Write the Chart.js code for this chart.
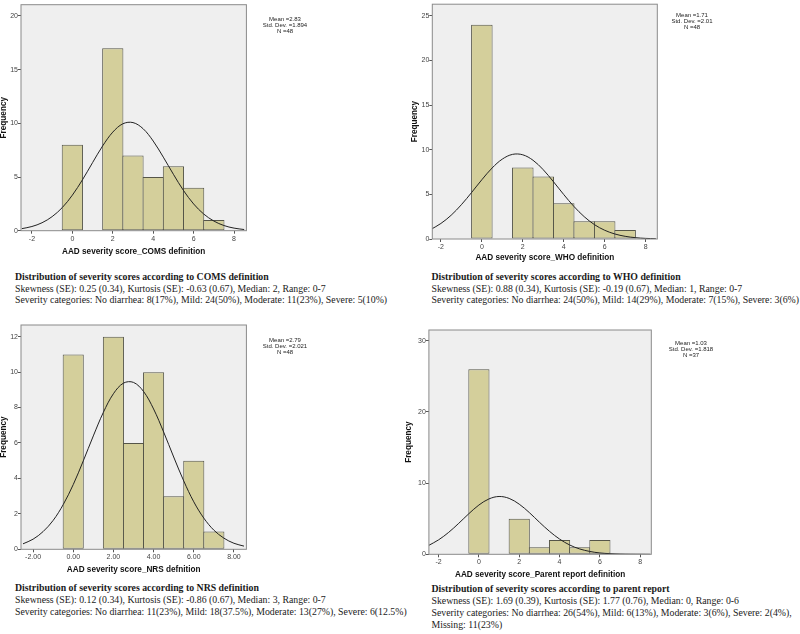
<!DOCTYPE html>
<html lang="en">
<head>
    <meta charset="UTF-8">
    <title>AAD severity score distributions</title>
    <script src="https://cdn.jsdelivr.net/npm/chart.js"></script>
    <style>
        body {
            margin: 0;
            width: 800px;
            height: 634px;
            background: #fff;
            position: relative;
            overflow: hidden;
        }
        canvas.hist {
            position: absolute;
        }
        .stats {
            position: absolute;
            width: 80px;
            font-family: "Liberation Sans", Arial, sans-serif;
            font-size: 6px;
            line-height: 6.3px;
            text-align: center;
            color: #222;
        }
        .caption {
            position: absolute;
            font-family: "Liberation Serif", "Times New Roman", serif;
            font-size: 9.8px;
            line-height: 11.5px;
            color: #1a1a1a;
            white-space: nowrap;
        }
    </style>
</head>
<body>
    <canvas id="comsChart" class="hist"></canvas>
    <canvas id="whoChart" class="hist"></canvas>
    <canvas id="nrsChart" class="hist"></canvas>
    <canvas id="parentChart" class="hist"></canvas>

    <div class="stats" style="left:245px; top:15.8px;">Mean =2.83<br>Std. Dev. =1.894<br>N =48</div>
    <div class="stats" style="left:652px; top:11.8px;">Mean =1.71<br>Std. Dev. =2.01<br>N =48</div>
    <div class="stats" style="left:245px; top:336.8px;">Mean =2.79<br>Std. Dev. =2.021<br>N =48</div>
    <div class="stats" style="left:651px; top:339.8px;">Mean =1.03<br>Std. Dev. =1.818<br>N =37</div>

    <div class="caption" style="left:15px; top:271px;">
        <b>Distribution of severity scores according to COMS definition</b><br>
        Skewness (SE): 0.25 (0.34), Kurtosis (SE): -0.63 (0.67), Median: 2, Range: 0-7<br>
        Severity categories: No diarrhea: 8(17%), Mild: 24(50%), Moderate: 11(23%), Severe: 5(10%)
    </div>
    <div class="caption" style="left:431.5px; top:271px;">
        <b>Distribution of severity scores according to WHO definition</b><br>
        Skewness (SE): 0.88 (0.34), Kurtosis (SE): -0.19 (0.67), Median: 1, Range: 0-7<br>
        Severity categories: No diarrhea: 24(50%), Mild: 14(29%), Moderate: 7(15%), Severe: 3(6%)
    </div>
    <div class="caption" style="left:15px; top:582px; line-height:12px;">
        <b>Distribution of severity scores according to NRS definition</b><br>
        Skewness (SE): 0.12 (0.34), Kurtosis (SE): -0.86 (0.67), Median: 3, Range: 0-7<br>
        Severity categories: No diarrhea: 11(23%), Mild: 18(37.5%), Moderate: 13(27%), Severe: 6(12.5%)
    </div>
    <div class="caption" style="left:431.5px; top:583px; line-height:12px;">
        <b>Distribution of severity scores according to parent report</b><br>
        Skewness (SE): 1.69 (0.39), Kurtosis (SE): 1.77 (0.76), Median: 0, Range: 0-6<br>
        Severity categories: No diarrhea: 26(54%), Mild: 6(13%), Moderate: 3(6%), Severe: 2(4%),<br>
        Missing: 11(23%)
    </div>

    <script>
        // score bins (0..7) and frequencies
        const bins = [0, 1, 2, 3, 4, 5, 6, 7];
        const comsCounts = [8, 0, 17, 7, 5, 6, 4, 1];
        const whoCounts = [24, 0, 8, 7, 4, 2, 2, 1];
        const nrsCounts = [11, 0, 12, 6, 10, 3, 5, 1];
        const parentBins = [0, 1, 2, 3, 4, 5, 6];
        const parentCounts = [26, 0, 5, 1, 2, 1, 2];

        const curveX = [-2.5, -2, -1.5, -1, -0.5, 0, 0.5, 1, 1.5, 2, 2.5, 3, 3.5, 4, 4.5, 5, 5.5, 6, 6.5, 7, 7.5, 8, 8.5];
        const comsCurve = [0.19, 0.39, 0.74, 1.31, 2.15, 3.31, 4.74, 6.34, 7.90, 9.18, 9.96, 10.07, 9.50, 8.35, 6.85, 5.25, 3.74, 2.49, 1.55, 0.90, 0.48, 0.24, 0.11];
        const whoCurve = [1.06, 1.74, 2.66, 3.84, 5.21, 6.64, 7.95, 8.95, 9.48, 9.43, 8.82, 7.76, 6.41, 4.98, 3.64, 2.50, 1.61, 0.98, 0.56, 0.30, 0.15, 0.07, 0.03];
        const nrsCurve = [0.31, 0.57, 1.00, 1.63, 2.52, 3.65, 4.99, 6.40, 7.73, 8.78, 9.38, 9.42, 8.91, 7.92, 6.62, 5.21, 3.86, 2.68, 1.76, 1.08, 0.63, 0.34, 0.18];
        const parentCurve = [1.23, 2.03, 3.08, 4.35, 5.70, 6.92, 7.78, 8.12, 7.85, 7.04, 5.86, 4.51, 3.23, 2.14, 1.31, 0.75, 0.40, 0.19, 0.09, 0.04, 0.02, 0.01, 0.00];

        // tick values and labels
        const xTicks = [-2, 0, 2, 4, 6, 8];
        const xTickLabels = ['-2', '0', '2', '4', '6', '8'];
        const nrsXTickLabels = ['-2.00', '0.00', '2.00', '4.00', '6.00', '8.00'];
        const comsYTicks = [0, 5, 10, 15, 20];
        const whoYTicks = [0, 5, 10, 15, 20, 25];
        const nrsYTicks = [0, 2, 4, 6, 8, 10, 12];
        const parentYTicks = [0, 10, 20, 30];

        // plot background + frame, like the SPSS output
        const framePlugin = {
            id: 'frame',
            beforeDraw(chart) {
                const a = chart.chartArea, ctx = chart.ctx;
                ctx.save();
                ctx.fillStyle = '#efefef';
                ctx.fillRect(a.left, a.top, a.right - a.left, a.bottom - a.top);
                ctx.restore();
            },
            afterDraw(chart) {
                const a = chart.chartArea, ctx = chart.ctx;
                ctx.save();
                ctx.strokeStyle = '#8a8a8a';
                ctx.lineWidth = 1;
                ctx.strokeRect(a.left, a.top, a.right - a.left, a.bottom - a.top);
                ctx.restore();
            }
        };

        function makeHist(id, cfg) {
            const canvas = document.getElementById(id);
            const [bl, bt, bw, bh] = cfg.box;
            canvas.width = bw;
            canvas.height = bh;
            canvas.style.left = bl + 'px';
            canvas.style.top = bt + 'px';
            canvas.style.width = bw + 'px';
            canvas.style.height = bh + 'px';

            const yAxisWidth = cfg.area[0] - bl;
            const padTop = cfg.area[1] - bt;
            const padRight = bl + bw - cfg.area[2];
            const xAxisHeight = bt + bh - cfg.area[3];

            const barData = [];
            cfg.bins.forEach((b, i) => {
                if (cfg.counts[i] > 0) barData.push({ x: b, y: cfg.counts[i] });
            });
            const lineData = curveX.map((x, i) => ({ x: x, y: cfg.curve[i] }));

            return new Chart(canvas.getContext('2d'), {
                type: 'bar',
                data: {
                    datasets: [{
                        type: 'line',
                        data: lineData,
                        borderColor: '#222',
                        borderWidth: 1,
                        pointRadius: 0,
                        fill: false,
                        tension: 0.35,
                        order: 0
                    }, {
                        type: 'bar',
                        data: barData,
                        backgroundColor: '#d4cf9b',
                        borderColor: '#555548',
                        borderWidth: 1,
                        borderSkipped: false,
                        categoryPercentage: 1,
                        barPercentage: 1.05, // overlap 1px so neighbours share one edge
                        order: 1
                    }]
                },
                options: {
                    responsive: false,
                    animation: false,
                    events: [],
                    layout: { padding: { top: padTop, right: padRight, left: 0, bottom: 0 } },
                    plugins: {
                        legend: { display: false },
                        tooltip: { enabled: false }
                    },
                    scales: {
                        x: {
                            type: 'linear',
                            min: cfg.xMin,
                            max: cfg.xMax,
                            offset: false,
                            border: { display: false },
                            grid: { display: true, offset: false, drawOnChartArea: false, drawTicks: true, tickLength: 3, color: '#555' },
                            afterBuildTicks: s => { s.ticks = xTicks.map(v => ({ value: v })); },
                            afterFit: s => { s.height = xAxisHeight; },
                            ticks: {
                                autoSkip: false,
                                maxRotation: 0,
                                padding: 1,
                                color: '#444',
                                font: { family: 'Liberation Sans', size: 7 },
                                callback: (v, i) => cfg.xLabels[i]
                            },
                            title: {
                                display: true,
                                text: cfg.xTitle,
                                color: '#111',
                                padding: 0,
                                font: { family: 'Liberation Sans', size: 8.2, weight: 'bold', lineHeight: 1.2 }
                            }
                        },
                        y: {
                            min: 0,
                            max: cfg.yMax,
                            border: { display: false },
                            grid: { display: true, drawOnChartArea: false, drawTicks: true, tickLength: 3, color: '#555' },
                            afterBuildTicks: s => { s.ticks = cfg.yTicks.map(v => ({ value: v })); },
                            afterFit: s => { s.width = yAxisWidth; },
                            ticks: {
                                padding: 0,
                                color: '#444',
                                font: { family: 'Liberation Sans', size: 7 }
                            },
                            title: {
                                display: true,
                                text: 'Frequency',
                                color: '#111',
                                padding: 0,
                                font: { family: 'Liberation Sans', size: 8.2, weight: 'bold', lineHeight: 1.2 }
                            }
                        }
                    }
                },
                plugins: [framePlugin]
            });
        }

        makeHist('comsChart', {
            box: [-0.7, 0, 261, 257], area: [21.3, 4.7, 246.7, 230.7],
            xMin: -2.54, xMax: 8.61, yMax: 21.05,
            bins: bins, counts: comsCounts, curve: comsCurve,
            yTicks: comsYTicks, xLabels: xTickLabels,
            xTitle: 'AAD severity score_COMS definition'
        });
        makeHist('whoChart', {
            box: [410.4, 0, 260, 263], area: [432.7, 2.5, 657.7, 239],
            xMin: -2.42, xMax: 8.57, yMax: 26.3,
            bins: bins, counts: whoCounts, curve: whoCurve,
            yTicks: whoYTicks, xLabels: xTickLabels,
            xTitle: 'AAD severity score_WHO definition'
        });
        makeHist('nrsChart', {
            box: [-0.7, 318, 261, 257], area: [21.3, 325, 246.7, 549.3],
            xMin: -2.6, xMax: 8.62, yMax: 12.66,
            bins: bins, counts: nrsCounts, curve: nrsCurve,
            yTicks: nrsYTicks, xLabels: nrsXTickLabels,
            xTitle: 'AAD severity score_NRS defnition'
        });
        makeHist('parentChart', {
            box: [404.4, 322, 261, 258], area: [429.3, 330, 651.7, 554.3],
            xMin: -2.48, xMax: 8.55, yMax: 31.5,
            bins: parentBins, counts: parentCounts, curve: parentCurve,
            yTicks: parentYTicks, xLabels: xTickLabels,
            xTitle: 'AAD severity score_Parent report definition'
        });
    </script>
</body>
</html>
